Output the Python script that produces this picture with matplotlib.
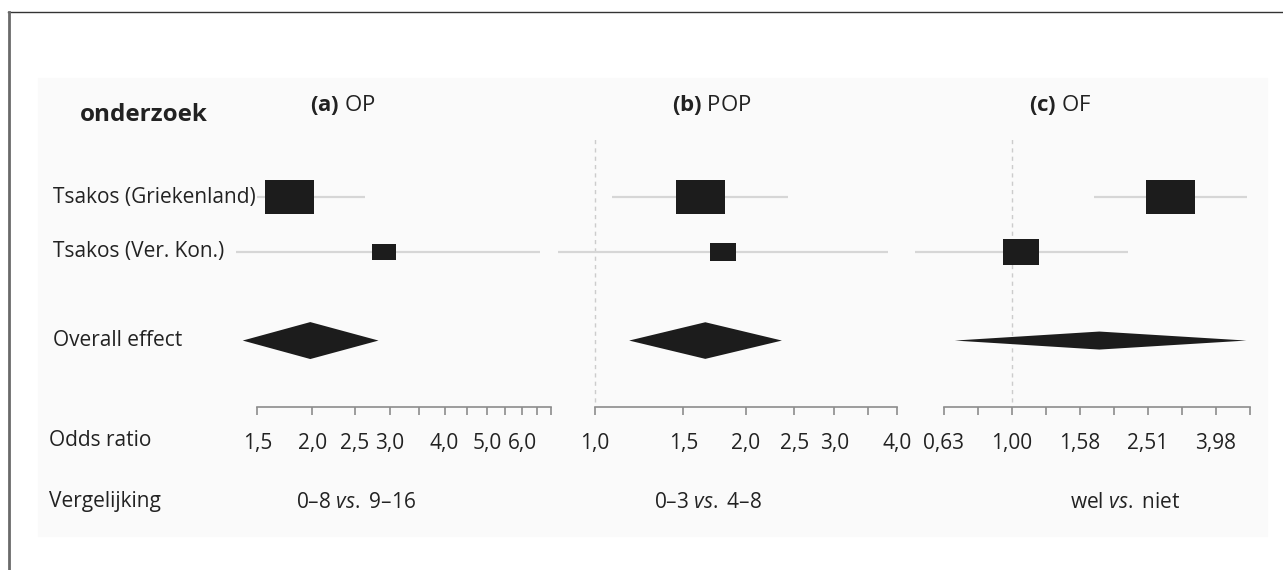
import numpy as np
import matplotlib.pyplot as plt
from matplotlib.lines import Line2D
from matplotlib.patches import Rectangle
from matplotlib.ticker import NullLocator

plt.rcParams['font.family'] = ['Open Sans', 'DejaVu Sans']
plt.rcParams['mathtext.fontset'] = 'custom'
plt.rcParams['mathtext.rm'] = 'Open Sans'
plt.rcParams['mathtext.it'] = 'Open Sans:italic'
plt.rcParams['mathtext.bf'] = 'Open Sans:bold'

# data (odds ratios)
studies = ["Tsakos (Griekenland)", "Tsakos (Ver. Kon.)"]
panel_tags = ["(a)", "(b)", "(c)"]
outcomes = ["OP", "POP", "OF"]
comparisons = ["0–8 $\\mathit{vs.}$ 9–16", "0–3 $\\mathit{vs.}$ 4–8", "wel $\\mathit{vs.}$ niet"]

or_a = [1.77, 2.92]
lo_a = [1.18, 1.29]
hi_a = [2.64, 6.59]
overall_a = [1.98, 1.39, 2.83]
weights_a = [81, 19]

or_b = [1.62, 1.80]
lo_b = [1.08, 0.845]
hi_b = [2.43, 3.85]
overall_b = [1.66, 1.17, 2.36]
weights_b = [77, 23]

or_c = [2.92, 1.065]
lo_c = [1.75, 0.52]
hi_c = [4.91, 2.20]
overall_c = [1.81, 0.68, 4.90]
weights_c = [64, 36]

ticks_a = [1.5, 2.0, 2.5, 3.0, 3.5, 4.0, 4.5, 5.0, 5.5, 6.0, 6.5, 7.0]
labels_a = ["1,5", "2,0", "2,5", "3,0", "", "4,0", "", "5,0", "", "6,0", "", ""]
ticks_b = [1.0, 1.5, 2.0, 2.5, 3.0, 3.5, 4.0]
labels_b = ["1,0", "1,5", "2,0", "2,5", "3,0", "", "4,0"]
ticks_c = [10 ** (k / 10) for k in range(-2, 8)]
labels_c = ["0,63", "", "1,00", "", "1,58", "", "2,51", "", "3,98", ""]

W, H = 1283, 570
fig = plt.figure(figsize=(W / 100, H / 100), dpi=100)


def fx(px):
    return px / W


def fy(py):
    return 1 - py / H


# faint page background and frame
fig.add_artist(Rectangle((fx(38), fy(536)), fx(1267) - fx(38), fy(78) - fy(536),
                         transform=fig.transFigure, color='#fafafa', zorder=-5))
fig.add_artist(Line2D([fx(8), 1], [fy(12), fy(12)], color='#333333', lw=1.0))
fig.add_artist(Line2D([fx(8.5), fx(8.5)], [fy(12), 0], color='#6a6a6a', lw=2.0))

ink = '#1c1c1c'
ci_col = '#d6d6d6'
axis_col = '#8c8c8c'
box_verts = [(-1, -0.69), (1, -0.69), (1, 0.69), (-1, 0.69), (-1, -0.69)]
row_y = [0, 1]
overall_y = 2.61

panels = [
    (or_a, lo_a, hi_a, overall_a, weights_a, ticks_a, labels_a, (1.342, 7.13), 236, 555, 0.336, False),
    (or_b, lo_b, hi_b, overall_b, weights_b, ticks_b, labels_b, (0.836, 4.06), 556, 900, 0.333, True),
    (or_c, lo_c, hi_c, overall_c, weights_c, ticks_c, labels_c, (0.509, 5.09), 912, 1252, 0.164, True),
]

for est, lo, hi, ov, wts, ticks, labels, xlim, left, right, dh, ref_line in panels:
    ax = fig.add_axes([fx(left), fy(407), fx(right) - fx(left), fy(137) - fy(407)])
    ax.patch.set_alpha(0)
    ax.set_xscale('log')
    ax.set_xlim(xlim)
    ax.set_ylim(3.818, -1.091)

    if ref_line:
        ax.axvline(1.0, ymin=0.02, ymax=1, color='#cccccc', lw=1, ls=(0, (3, 3)), zorder=0)

    wmax = max(wts)
    for i in range(len(est)):
        ax.plot([lo[i], hi[i]], [row_y[i], row_y[i]], color=ci_col, lw=1.6,
                solid_capstyle='butt', zorder=1)
        size_px = 49 * np.sqrt(wts[i] / wmax)
        ax.plot(est[i], row_y[i], marker=box_verts, ms=size_px * 0.72, color=ink,
                mew=0, ls='none', zorder=2)

    e, l, h = ov
    ax.fill([l, e, h, e], [overall_y, overall_y - dh, overall_y, overall_y + dh],
            color=ink, lw=0, zorder=2)

    ax.set_xticks(ticks)
    ax.set_xticklabels(labels)
    ax.xaxis.set_minor_locator(NullLocator())
    ax.set_yticks([])
    for s in ['top', 'left', 'right']:
        ax.spines[s].set_visible(False)
    ax.spines['bottom'].set_bounds(ticks[0], ticks[-1])
    ax.spines['bottom'].set_color(axis_col)
    ax.spines['bottom'].set_linewidth(1.2)
    ax.tick_params(axis='x', length=6, width=1.2, color=axis_col, pad=13,
                   labelsize=15, labelcolor='#222222')

# text
txt = dict(color='#222222', va='center')
fig.text(fx(80), fy(115), "onderzoek", fontsize=17.5, fontweight='bold', ha='left', **txt)
label_bg = dict(facecolor='#fafafa', edgecolor='none', pad=1)
fig.text(fx(53), fy(197), studies[0], fontsize=15, ha='left', bbox=label_bg, **txt)
fig.text(fx(53), fy(252), studies[1], fontsize=15, ha='left', bbox=label_bg, **txt)
fig.text(fx(53), fy(340), "Overall effect", fontsize=15, ha='left', **txt)
fig.text(fx(49), fy(440), "Odds ratio", fontsize=15, ha='left', **txt)
fig.text(fx(49), fy(502), "Vergelijking", fontsize=15, ha='left', **txt)

title_x = [343, 712, 1060]
comp_x = [356, 708, 1125]
for k in range(3):
    fig.text(fx(title_x[k]), fy(105), "$\\mathbf{%s}$ %s" % (panel_tags[k], outcomes[k]),
             fontsize=16, ha='center', **txt)
    fig.text(fx(comp_x[k]), fy(502), comparisons[k], fontsize=15, ha='center', **txt)

fig.savefig('out.png', dpi=100)
